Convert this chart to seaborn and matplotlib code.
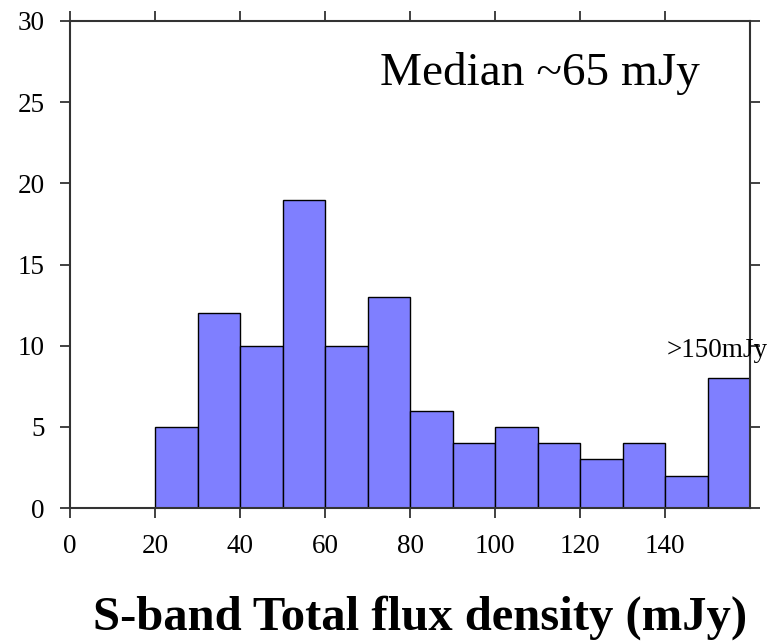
import numpy as np
import pandas as pd
import matplotlib
matplotlib.use("Agg")
import matplotlib.pyplot as plt
import seaborn as sns

# Data
bin_left = [20, 30, 40, 50, 60, 70, 80, 90, 100, 110, 120, 130, 140, 150]
counts = [5, 12, 10, 19, 10, 13, 6, 4, 5, 4, 3, 4, 2, 8]
bin_width = 10
x_ticks = [0, 20, 40, 60, 80, 100, 120, 140]
y_ticks = [0, 5, 10, 15, 20, 25, 30]
xlabel = "S-band Total flux density (mJy)"
median_note = "Median ~65 mJy"
overflow_note = ">150mJy"

sns.set_style("white")
plt.rcParams["font.family"] = ["Liberation Serif", "DejaVu Serif"]
plt.rcParams["text.color"] = "black"

df = pd.DataFrame({"flux": [b + bin_width / 2 for b in bin_left], "n": counts})
edges = bin_left + [bin_left[-1] + bin_width]

fig = plt.figure(figsize=(7.72, 6.42), dpi=100)
ax = fig.add_axes([70 / 772, 1 - 508 / 642, 680 / 772, 487 / 642])

sns.histplot(data=df, x="flux", weights="n", bins=edges, ax=ax,
             color="#7f7fff", alpha=1.0, edgecolor="black", linewidth=1.0)

ax.set_xlim(0, 160)
ax.set_ylim(0, 30)
ax.set_xticks(x_ticks)
ax.set_yticks(y_ticks)
ax.set_xlabel("")
ax.set_ylabel("")

for s in ax.spines.values():
    s.set_visible(True)
    s.set_color("#333333")
    s.set_linewidth(1.5)

ax.tick_params(axis="both", which="major", direction="out", length=7,
               width=1.3, color="#333333", labelsize=19.5, labelcolor="black",
               top=True, right=True, bottom=True, left=True,
               labeltop=False, labelright=False)
ax.tick_params(axis="x", pad=12)
ax.tick_params(axis="y", pad=11)

ax.text(72.9, 26.06, median_note, fontsize=34, ha="left", va="baseline",
        color="black")
ax.text(140.5, 9.3, overflow_note, fontsize=19.5, ha="left", va="baseline",
        color="black", clip_on=False)

fig.text(420 / 772, 1 - 630 / 642, xlabel, fontsize=35, fontweight="bold",
         color="black", ha="center", va="baseline")

fig.savefig("out.png", dpi=100, facecolor="white")
